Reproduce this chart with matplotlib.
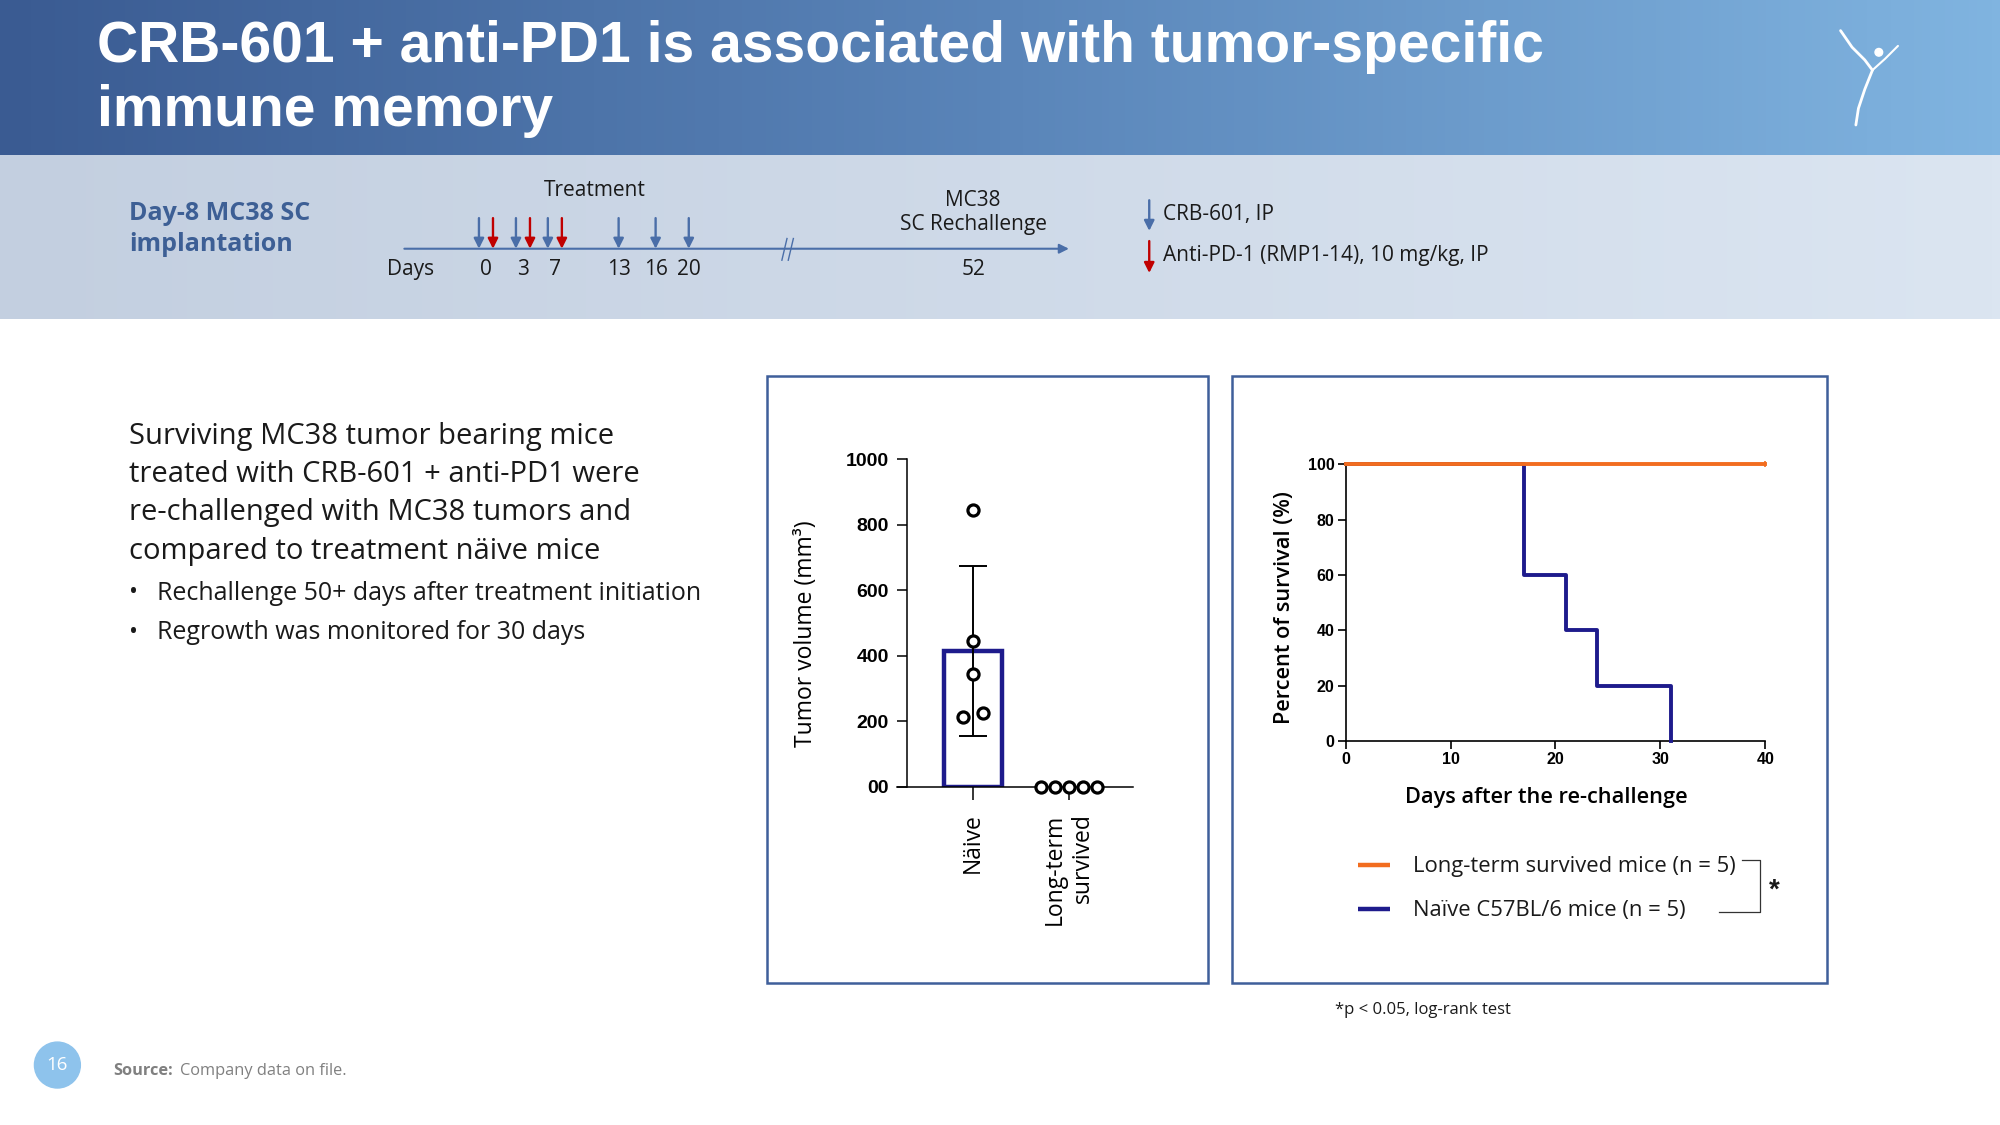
import numpy as np
import matplotlib
matplotlib.use("Agg")
import matplotlib.pyplot as plt
import matplotlib.patches as patches
from matplotlib.colors import LinearSegmentedColormap

# ---- data ----
crb601_days = [0, 3, 7, 13, 16, 20]
antipd1_days = [0, 3, 7]
rechallenge_day = 52

bar_groups = ["Näive", "Long-term\nsurvived"]
naive_volume = [845, 445, 345, 215, 225]
survived_volume = [0, 0, 0, 0, 0]
bar_yticks = [0, 200, 400, 600, 800, 1000]
bar_yticklabels = ["00", "200", "400", "600", "800", "1000"]

surv_days_survived = [0, 40]
surv_pct_survived = [100, 100]
surv_days_naive = [0, 17, 21, 24, 31]
surv_pct_naive = [100, 60, 40, 20, 0]
surv_labels = ["Long-term survived mice (n = 5)", "Naïve C57BL/6 mice (n = 5)"]
surv_xticks = [0, 10, 20, 30, 40]
surv_yticks = [0, 20, 40, 60, 80, 100]

# layout units: slide pixels at 1568 x 882
W, H = 1568, 882
DY = 2  # matplotlib centres on the full text box, nudge down a touch

colors = {
    'navy': '#1e1b8c',
    'orange': '#f26d1f',
    'frame': '#3f5f9a',
    'timeline': '#4a6ea8',
    'red': '#c00000',
    'text': '#1a1a1a',
    'grey': '#808080',
}
BODY = 'Open Sans'
ARIAL = 'Liberation Sans'


def fig_rect(x0, y0, x1, y1):
    return [x0 / W, 1 - y1 / H, (x1 - x0) / W, (y1 - y0) / H]


def down_arrow(ax, x, y0, y1, color):
    ax.annotate("", xy=(x, y1), xytext=(x, y0),
                arrowprops=dict(arrowstyle='-|>', color=color, lw=1.7,
                                mutation_scale=15, shrinkA=0, shrinkB=0))


def make_slide(output_path):
    fig = plt.figure(figsize=(20, 11.25), dpi=100, facecolor='white')
    bg = fig.add_axes([0, 0, 1, 1])
    bg.set_axis_off()

    def txt(x, y, s, **kw):
        kw.setdefault('va', 'center')
        kw.setdefault('family', BODY)
        kw.setdefault('color', colors['text'])
        bg.text(x, y + DY, s, **kw)

    # header banners
    grad = np.linspace(0, 1, 256).reshape(1, -1)
    dark = LinearSegmentedColormap.from_list('dark', ['#3a5b92', '#5a85b9', '#80b4e0'])
    light = LinearSegmentedColormap.from_list('light', ['#c3cfe0', '#dbe5f1'])
    bg.imshow(grad, cmap=dark, extent=[0, W, 122, 0], aspect='auto', zorder=0)
    bg.imshow(grad, cmap=light, extent=[0, W, 250, 122], aspect='auto', zorder=0)

    bg.text(76, 49, "CRB-601 + anti-PD1 is associated with tumor-specific", color='white',
            fontsize=41, fontweight='bold', family=ARIAL, va='baseline')
    bg.text(76, 99, "immune memory", color='white',
            fontsize=41, fontweight='bold', family=ARIAL, va='baseline')

    # little logo figure
    bg.plot([1443, 1452, 1462, 1468], [24, 37, 47, 55], color='white', lw=2, solid_capstyle='round')
    bg.plot([1468, 1478, 1488], [55, 46, 36], color='white', lw=1.5, solid_capstyle='round')
    bg.plot([1468, 1462, 1457, 1455], [55, 70, 85, 98], color='white', lw=2, solid_capstyle='round')
    bg.add_patch(patches.Circle((1473, 41), 3, color='white'))

    # timeline
    txt(101, 165, "Day-8 MC38 SC", color='#3d5f95', fontsize=18, weight='bold')
    txt(101, 190, "implantation", color='#3d5f95', fontsize=18, weight='bold')

    bg.annotate("", xy=(838, 195), xytext=(317, 195),
                arrowprops=dict(arrowstyle='-|>', color=colors['timeline'], lw=1.5,
                                mutation_scale=14, shrinkA=0, shrinkB=0))
    bg.plot([613, 617], [204, 187], color=colors['timeline'], lw=1)
    bg.plot([618, 622], [204, 187], color=colors['timeline'], lw=1)

    day_x = {0: 381, 3: 410, 7: 435, 13: 485, 16: 514, 20: 540, 52: 763}
    txt(322, 209, "Days", ha='center', fontsize=15)
    for d in crb601_days + [rechallenge_day]:
        txt(day_x[d], 209, str(d), ha='center', fontsize=15)
    for d in crb601_days:
        shift = -5.5 if d in antipd1_days else 0
        down_arrow(bg, day_x[d] + shift, 171, 195, colors['timeline'])
    for d in antipd1_days:
        down_arrow(bg, day_x[d] + 5.5, 171, 195, colors['red'])

    txt(466, 147, "Treatment", ha='center', fontsize=15)
    txt(day_x[rechallenge_day], 155, "MC38", ha='center', fontsize=15)
    txt(day_x[rechallenge_day], 174, "SC Rechallenge", ha='center', fontsize=15)

    down_arrow(bg, 901, 157, 181, colors['timeline'])
    down_arrow(bg, 901, 189, 214, colors['red'])
    txt(912, 166, "CRB-601, IP", fontsize=15)
    txt(912, 198, "Anti-PD-1 (RMP1-14), 10 mg/kg, IP", fontsize=15)

    # left text block
    lines = ["Surviving MC38 tumor bearing mice",
             "treated with CRB-601 + anti-PD1 were",
             "re-challenged with MC38 tumors and",
             "compared to treatment näive mice"]
    for i, line in enumerate(lines):
        txt(101, 340 + 30 * i, line, fontsize=21)
    bullets = ["Rechallenge 50+ days after treatment initiation",
               "Regrowth was monitored for 30 days"]
    for i, line in enumerate(bullets):
        y = 463 + 31 * i
        txt(101, y, "•", fontsize=17)
        txt(123, y, line, fontsize=18)

    # panel frames
    bg.add_patch(patches.Rectangle((601, 295), 346, 476, fill=False, edgecolor=colors['frame'], lw=1.8))
    bg.add_patch(patches.Rectangle((966, 295), 466, 476, fill=False, edgecolor=colors['frame'], lw=1.8))

    # ---- bar chart ----
    ax1 = fig.add_axes(fig_rect(703, 360, 888, 617))
    ax1.patch.set_alpha(0)
    mean = np.mean(naive_volume)
    sd = np.std(naive_volume, ddof=1)
    ax1.bar([0], [mean], width=0.61, facecolor='white', edgecolor=colors['navy'], linewidth=3.2, zorder=2)
    ax1.errorbar([0], [mean], yerr=[sd], color='black', lw=1.4, capsize=10, capthick=1.4, zorder=3)
    naive_offsets = [0, 0, 0, -0.11, 0.10]
    survived_offsets = [-0.29, -0.145, 0, 0.145, 0.29]
    ax1.plot(np.array(naive_offsets), naive_volume, 'o', mfc='white', mec='black', ms=8, mew=2.3,
             zorder=4, clip_on=False)
    ax1.plot(1 + np.array(survived_offsets), survived_volume, 'o', mfc='white', mec='black', ms=8,
             mew=2.3, zorder=4, clip_on=False)
    ax1.set_xlim(-0.8, 1.667)
    ax1.set_ylim(0, 1000)
    ax1.spines['left'].set_position(('data', -0.693))
    ax1.spines['top'].set_visible(False)
    ax1.spines['right'].set_visible(False)
    for s in ('left', 'bottom'):
        ax1.spines[s].set_linewidth(1.1)
    ax1.set_yticks(bar_yticks)
    ax1.set_yticklabels(bar_yticklabels, family=ARIAL, fontweight='bold', fontsize=14)
    ax1.set_xticks([0, 1])
    ax1.set_xticklabels(bar_groups, family=BODY, fontsize=16.5, rotation=90, ha='center', va='top',
                        multialignment='right')
    ax1.tick_params(axis='y', length=7, width=1.1, pad=6)
    ax1.tick_params(axis='x', length=9, width=1.1, pad=10)
    ax1.set_ylabel("Tumor volume (mm³)", family=BODY, fontsize=16.5)
    ax1.yaxis.set_label_coords(-0.384, 0.467)
    ax1.yaxis.label.set_verticalalignment('center')

    # ---- survival curve ----
    ax2 = fig.add_axes(fig_rect(1055, 364, 1384, 581))
    ax2.patch.set_alpha(0)
    ax2.step(surv_days_naive, surv_pct_naive, where='post', color=colors['navy'], lw=2.8, zorder=3,
             clip_on=False)
    ax2.plot(surv_days_survived, surv_pct_survived, color=colors['orange'], lw=2.8, zorder=4,
             clip_on=False, marker='|', markevery=[1], ms=5, mew=1.2)
    ax2.set_xlim(0, 40)
    ax2.set_ylim(0, 100)
    ax2.spines['top'].set_visible(False)
    ax2.spines['right'].set_visible(False)
    for s in ('left', 'bottom'):
        ax2.spines[s].set_linewidth(1.2)
    ax2.set_xticks(surv_xticks)
    ax2.set_yticks(surv_yticks)
    ax2.set_xticklabels([str(t) for t in surv_xticks], family=ARIAL, fontweight='bold', fontsize=11.5)
    ax2.set_yticklabels([str(t) for t in surv_yticks], family=ARIAL, fontweight='bold', fontsize=11.5)
    ax2.tick_params(length=6, width=1.2, pad=2)
    ax2.set_ylabel("Percent of survival (%)", family=BODY, fontsize=15.7, fontweight='semibold')
    ax2.yaxis.set_label_coords(-0.146, 0.484)
    ax2.yaxis.label.set_verticalalignment('center')
    ax2.set_xlabel("Days after the re-challenge", family=BODY, fontsize=15.7, fontweight='semibold')
    ax2.xaxis.set_label_coords(0.477, -0.203)
    ax2.xaxis.label.set_verticalalignment('center')

    # legend + significance bracket
    for y, label, col in zip([678, 713], surv_labels, [colors['orange'], colors['navy']]):
        bg.plot([1065, 1090], [y, y], color=col, lw=3.2, solid_capstyle='butt')
        txt(1108, y - 1, label, fontsize=15.8)
    bg.plot([1366, 1380, 1380, 1348], [674, 674, 715, 715], color='#333333', lw=0.9)
    txt(1391, 696, "*", ha='center', fontsize=20, fontweight='bold', family=ARIAL)
    txt(1047, 790, "*p < 0.05, log-rank test", fontsize=12)

    # footer
    bg.add_patch(patches.Circle((45, 835), 18, color='#8ec3ec'))
    txt(45, 833, "16", ha='center', fontsize=13.5, color='white')
    txt(89, 838, "Source:", fontsize=11.8, fontweight='bold', color=colors['grey'])
    txt(141, 838, "Company data on file.", fontsize=11.8, color=colors['grey'])

    bg.set_xlim(0, W)
    bg.set_ylim(H, 0)

    fig.savefig(output_path, dpi=100)
    plt.close(fig)


if __name__ == "__main__":
    make_slide("out.png")
